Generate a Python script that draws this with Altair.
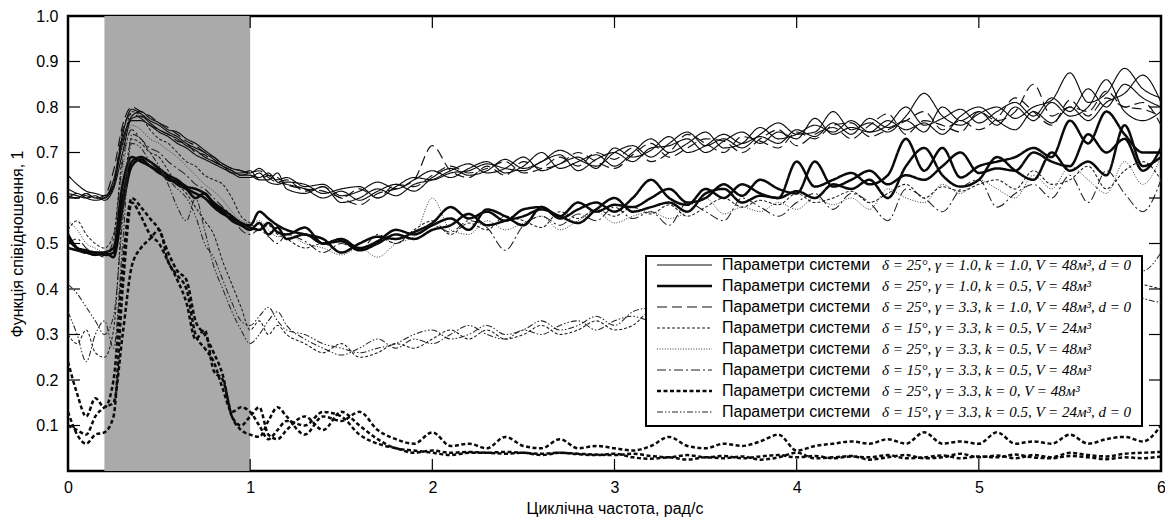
import altair as alt
import pandas as pd

# ---------------- data ----------------
X_GRID = [0.00, 0.05, 0.10, 0.15, 0.20, 0.25, 0.30, 0.35, 0.40, 0.45, 0.50, 0.55, 0.60,
          0.65, 0.70, 0.75, 0.80, 0.85, 0.90, 0.95, 1.00, 1.05, 1.10, 1.15, 1.20,
          1.3, 1.4, 1.5, 1.6, 1.7, 1.8, 1.9, 2.0, 2.1, 2.2,
          2.3, 2.4, 2.5, 2.6, 2.7, 2.8, 2.9, 3.0, 3.1, 3.2,
          3.3, 3.4, 3.5, 3.6, 3.7, 3.8, 3.9, 4.0, 4.1, 4.2,
          4.3, 4.4, 4.5, 4.6, 4.7, 4.8, 4.9, 5.0, 5.1, 5.2,
          5.3, 5.4, 5.5, 5.6, 5.7, 5.8, 5.9, 6.0]

# upper band: thin solid (A) and long dash (C)
A1 = [0.65, 0.63, 0.615, 0.61, 0.605, 0.63, 0.72, 0.78, 0.79, 0.775, 0.765, 0.75, 0.745, 0.73, 0.72, 0.705, 0.69, 0.675, 0.665, 0.66, 0.655, 0.665, 0.65, 0.64, 0.645,
      0.625, 0.63, 0.605, 0.615, 0.635, 0.62, 0.64, 0.66, 0.645, 0.665,
      0.68, 0.655, 0.67, 0.70, 0.665, 0.68, 0.695, 0.67, 0.70, 0.73,
      0.70, 0.72, 0.745, 0.71, 0.72, 0.755, 0.73, 0.74, 0.76, 0.745,
      0.77, 0.745, 0.76, 0.80, 0.76, 0.775, 0.795, 0.765, 0.79, 0.81,
      0.78, 0.82, 0.79, 0.84, 0.80, 0.85, 0.82, 0.80]
A2 = [0.605, 0.60, 0.61, 0.60, 0.60, 0.625, 0.74, 0.795, 0.785, 0.77, 0.76, 0.745, 0.735, 0.72, 0.71, 0.70, 0.685, 0.67, 0.66, 0.65, 0.65, 0.645, 0.655, 0.635, 0.63,
      0.62, 0.60, 0.615, 0.595, 0.615, 0.63, 0.615, 0.645, 0.665, 0.65,
      0.66, 0.685, 0.665, 0.68, 0.705, 0.685, 0.67, 0.70, 0.715, 0.69,
      0.72, 0.745, 0.715, 0.73, 0.71, 0.74, 0.765, 0.74, 0.745, 0.79,
      0.75, 0.765, 0.745, 0.78, 0.83, 0.78, 0.76, 0.785, 0.80, 0.775,
      0.80, 0.815, 0.875, 0.81, 0.83, 0.885, 0.84, 0.82]
A3 = [0.61, 0.605, 0.60, 0.605, 0.595, 0.62, 0.70, 0.775, 0.78, 0.765, 0.75, 0.74, 0.73, 0.715, 0.705, 0.69, 0.68, 0.67, 0.655, 0.655, 0.66, 0.64, 0.64, 0.655, 0.62,
      0.61, 0.625, 0.59, 0.60, 0.62, 0.605, 0.63, 0.64, 0.66, 0.675,
      0.655, 0.665, 0.69, 0.66, 0.675, 0.69, 0.665, 0.71, 0.69, 0.705,
      0.735, 0.70, 0.715, 0.74, 0.72, 0.735, 0.72, 0.75, 0.735, 0.765,
      0.74, 0.775, 0.755, 0.77, 0.745, 0.80, 0.77, 0.79, 0.76, 0.80,
      0.77, 0.81, 0.78, 0.80, 0.86, 0.79, 0.77, 0.79]
A4 = [0.60, 0.61, 0.60, 0.595, 0.60, 0.64, 0.73, 0.77, 0.77, 0.76, 0.745, 0.735, 0.72, 0.71, 0.695, 0.685, 0.675, 0.665, 0.655, 0.645, 0.645, 0.655, 0.635, 0.63, 0.635,
      0.63, 0.61, 0.62, 0.625, 0.60, 0.625, 0.645, 0.64, 0.655, 0.66,
      0.675, 0.665, 0.66, 0.68, 0.695, 0.66, 0.685, 0.70, 0.68, 0.71,
      0.715, 0.73, 0.70, 0.725, 0.745, 0.72, 0.745, 0.73, 0.775, 0.74,
      0.755, 0.745, 0.77, 0.75, 0.765, 0.74, 0.78, 0.80, 0.77, 0.75,
      0.79, 0.765, 0.80, 0.77, 0.81, 0.83, 0.87, 0.81]
C1 = [0.62, 0.61, 0.605, 0.60, 0.605, 0.66, 0.76, 0.80, 0.79, 0.78, 0.765, 0.755, 0.74, 0.725, 0.715, 0.70, 0.69, 0.675, 0.665, 0.66, 0.65, 0.64, 0.65, 0.645, 0.63,
      0.62, 0.615, 0.60, 0.585, 0.61, 0.62, 0.64, 0.715, 0.66, 0.645,
      0.67, 0.65, 0.68, 0.665, 0.675, 0.70, 0.68, 0.665, 0.695, 0.72,
      0.69, 0.71, 0.73, 0.725, 0.70, 0.73, 0.75, 0.715, 0.74, 0.755,
      0.73, 0.76, 0.785, 0.74, 0.77, 0.76, 0.745, 0.79, 0.77, 0.79,
      0.85, 0.78, 0.80, 0.79, 0.835, 0.80, 0.81, 0.76]
C2 = [0.605, 0.60, 0.61, 0.60, 0.60, 0.63, 0.75, 0.785, 0.775, 0.76, 0.75, 0.74, 0.725, 0.72, 0.70, 0.695, 0.68, 0.67, 0.66, 0.65, 0.655, 0.66, 0.645, 0.635, 0.64,
      0.615, 0.625, 0.60, 0.62, 0.60, 0.63, 0.625, 0.65, 0.67, 0.655,
      0.665, 0.68, 0.655, 0.665, 0.69, 0.67, 0.70, 0.685, 0.71, 0.68,
      0.70, 0.74, 0.72, 0.70, 0.735, 0.725, 0.71, 0.745, 0.73, 0.76,
      0.765, 0.735, 0.75, 0.77, 0.79, 0.75, 0.77, 0.75, 0.775, 0.82,
      0.79, 0.76, 0.815, 0.78, 0.82, 0.80, 0.795, 0.78]

# lower band: thick solid (B), dotted (E), short dash (D), dash-dot (F)
B1 = [0.52, 0.49, 0.48, 0.48, 0.475, 0.48, 0.60, 0.68, 0.69, 0.68, 0.665, 0.65, 0.64, 0.625, 0.62, 0.61, 0.59, 0.575, 0.56, 0.545, 0.54, 0.57, 0.555, 0.54, 0.53,
      0.52, 0.51, 0.48, 0.50, 0.515, 0.51, 0.525, 0.545, 0.58, 0.555,
      0.57, 0.55, 0.575, 0.58, 0.555, 0.575, 0.59, 0.57, 0.60, 0.64,
      0.60, 0.585, 0.62, 0.60, 0.63, 0.61, 0.60, 0.68, 0.625, 0.64,
      0.655, 0.63, 0.65, 0.73, 0.66, 0.71, 0.645, 0.67, 0.68, 0.69,
      0.71, 0.69, 0.77, 0.72, 0.79, 0.74, 0.70, 0.70]
B2 = [0.49, 0.485, 0.48, 0.475, 0.48, 0.49, 0.63, 0.69, 0.68, 0.67, 0.655, 0.645, 0.63, 0.62, 0.61, 0.60, 0.58, 0.565, 0.555, 0.545, 0.535, 0.53, 0.545, 0.525, 0.52,
      0.535, 0.50, 0.51, 0.49, 0.505, 0.53, 0.52, 0.54, 0.555, 0.53,
      0.575, 0.56, 0.54, 0.58, 0.56, 0.59, 0.57, 0.585, 0.58, 0.60,
      0.62, 0.59, 0.60, 0.63, 0.605, 0.64, 0.62, 0.61, 0.68, 0.625,
      0.64, 0.66, 0.63, 0.65, 0.64, 0.67, 0.70, 0.655, 0.665, 0.66,
      0.70, 0.68, 0.67, 0.74, 0.70, 0.73, 0.66, 0.71]
B3 = [0.51, 0.49, 0.485, 0.48, 0.48, 0.47, 0.58, 0.67, 0.685, 0.67, 0.66, 0.64, 0.635, 0.62, 0.60, 0.61, 0.585, 0.57, 0.55, 0.54, 0.53, 0.545, 0.52, 0.535, 0.51,
      0.52, 0.50, 0.505, 0.485, 0.50, 0.52, 0.51, 0.53, 0.54, 0.565,
      0.54, 0.55, 0.56, 0.575, 0.56, 0.545, 0.575, 0.60, 0.57, 0.58,
      0.59, 0.57, 0.61, 0.62, 0.59, 0.605, 0.60, 0.615, 0.60, 0.63,
      0.62, 0.64, 0.60, 0.67, 0.71, 0.65, 0.625, 0.64, 0.69, 0.66,
      0.64, 0.70, 0.66, 0.68, 0.65, 0.76, 0.67, 0.69]
E1 = [0.55, 0.53, 0.50, 0.49, 0.48, 0.50, 0.66, 0.76, 0.75, 0.73, 0.72, 0.705, 0.69, 0.67, 0.65, 0.63, 0.615, 0.595, 0.57, 0.55, 0.545, 0.55, 0.53, 0.515, 0.52,
      0.50, 0.49, 0.475, 0.49, 0.47, 0.50, 0.515, 0.60, 0.53, 0.52,
      0.55, 0.53, 0.545, 0.56, 0.53, 0.55, 0.57, 0.545, 0.56, 0.57,
      0.555, 0.57, 0.60, 0.565, 0.58, 0.57, 0.59, 0.575, 0.60, 0.585,
      0.60, 0.575, 0.62, 0.60, 0.59, 0.63, 0.61, 0.64, 0.62, 0.60,
      0.65, 0.62, 0.67, 0.64, 0.61, 0.68, 0.63, 0.69]
D1 = [0.53, 0.55, 0.52, 0.50, 0.49, 0.52, 0.70, 0.79, 0.78, 0.75, 0.73, 0.72, 0.70, 0.68, 0.67, 0.65, 0.64, 0.63, 0.60, 0.56, 0.545, 0.53, 0.54, 0.52, 0.51,
      0.49, 0.50, 0.48, 0.50, 0.515, 0.50, 0.53, 0.55, 0.52, 0.545,
      0.53, 0.56, 0.55, 0.535, 0.57, 0.555, 0.575, 0.56, 0.58, 0.565,
      0.585, 0.56, 0.58, 0.60, 0.58, 0.595, 0.585, 0.61, 0.59, 0.60,
      0.615, 0.59, 0.61, 0.63, 0.60, 0.625, 0.615, 0.63, 0.64, 0.62,
      0.66, 0.63, 0.64, 0.67, 0.62, 0.66, 0.68, 0.64]
F1 = [0.50, 0.51, 0.49, 0.48, 0.47, 0.51, 0.68, 0.75, 0.73, 0.71, 0.70, 0.68, 0.665, 0.65, 0.63, 0.62, 0.60, 0.58, 0.56, 0.53, 0.52, 0.53, 0.515, 0.50, 0.52,
      0.505, 0.48, 0.50, 0.485, 0.52, 0.50, 0.525, 0.54, 0.525, 0.55,
      0.535, 0.485, 0.54, 0.56, 0.54, 0.565, 0.55, 0.58, 0.555, 0.57,
      0.54, 0.59, 0.57, 0.55, 0.60, 0.58, 0.56, 0.59, 0.61, 0.575,
      0.61, 0.59, 0.55, 0.62, 0.60, 0.57, 0.62, 0.64, 0.58, 0.61,
      0.63, 0.60, 0.65, 0.59, 0.66, 0.61, 0.57, 0.64]

# middle band: dash-dot-dot (H) and short dash (D)
H1 = [0.41, 0.39, 0.36, 0.33, 0.30, 0.34, 0.55, 0.72, 0.71, 0.68, 0.66, 0.64, 0.62, 0.60, 0.56, 0.50, 0.47, 0.42, 0.37, 0.33, 0.32, 0.34, 0.36, 0.33, 0.31,
      0.30, 0.28, 0.27, 0.26, 0.27, 0.28, 0.30, 0.31, 0.29, 0.30,
      0.32, 0.30, 0.31, 0.33, 0.31, 0.32, 0.34, 0.32, 0.35, 0.36,
      0.37, 0.36, 0.38, 0.37, 0.39, 0.38, 0.40, 0.39, 0.41, 0.40,
      0.41, 0.42, 0.41, 0.43, 0.42, 0.43, 0.44, 0.43, 0.44, 0.45,
      0.44, 0.45, 0.46, 0.45, 0.46, 0.45, 0.44, 0.48]
H2 = [0.35, 0.30, 0.24, 0.30, 0.33, 0.27, 0.50, 0.74, 0.73, 0.70, 0.67, 0.63, 0.58, 0.55, 0.60, 0.53, 0.45, 0.40, 0.35, 0.31, 0.28, 0.30, 0.33, 0.35, 0.32,
      0.29, 0.27, 0.255, 0.27, 0.29, 0.27, 0.29, 0.28, 0.30, 0.32,
      0.30, 0.29, 0.31, 0.30, 0.32, 0.33, 0.31, 0.33, 0.34, 0.33,
      0.35, 0.37, 0.36, 0.38, 0.37, 0.38, 0.37, 0.39, 0.38, 0.40,
      0.39, 0.40, 0.41, 0.40, 0.42, 0.41, 0.42, 0.41, 0.42, 0.41,
      0.42, 0.43, 0.42, 0.41, 0.42, 0.40, 0.38, 0.37]
D2 = [0.30, 0.28, 0.31, 0.26, 0.25, 0.31, 0.58, 0.73, 0.72, 0.70, 0.69, 0.66, 0.63, 0.61, 0.58, 0.55, 0.52, 0.46, 0.41, 0.36, 0.31, 0.33, 0.30, 0.32, 0.30,
      0.28, 0.26, 0.28, 0.25, 0.26, 0.28, 0.27, 0.29, 0.31, 0.29,
      0.31, 0.29, 0.30, 0.32, 0.30, 0.31, 0.33, 0.31, 0.32, 0.35,
      0.34, 0.35, 0.36, 0.35, 0.37, 0.36, 0.38, 0.37, 0.38, 0.39,
      0.38, 0.40, 0.39, 0.41, 0.40, 0.41, 0.43, 0.42, 0.43, 0.42,
      0.44, 0.43, 0.45, 0.44, 0.43, 0.42, 0.41, 0.40]

# bottom band: thick dashed, k = 0 (G)
G1 = [0.24, 0.17, 0.12, 0.16, 0.14, 0.20, 0.45, 0.60, 0.58, 0.555, 0.53, 0.48, 0.44, 0.42, 0.33, 0.30, 0.26, 0.21, 0.12, 0.10, 0.12, 0.14, 0.08, 0.07, 0.09,
      0.12, 0.09, 0.13, 0.10, 0.07, 0.05, 0.045, 0.04, 0.035, 0.04,
      0.04, 0.038, 0.04, 0.035, 0.04, 0.038, 0.036, 0.035, 0.038, 0.033,
      0.03, 0.035, 0.03, 0.033, 0.028, 0.032, 0.035, 0.03, 0.033, 0.028,
      0.032, 0.03, 0.035, 0.028, 0.03, 0.034, 0.028, 0.032, 0.03, 0.036,
      0.03, 0.028, 0.033, 0.03, 0.026, 0.03, 0.028, 0.032]
G2 = [0.13, 0.08, 0.06, 0.08, 0.085, 0.12, 0.40, 0.59, 0.56, 0.52, 0.50, 0.46, 0.42, 0.37, 0.29, 0.31, 0.22, 0.20, 0.12, 0.09, 0.08, 0.075, 0.11, 0.14, 0.12,
      0.08, 0.12, 0.11, 0.13, 0.09, 0.07, 0.06, 0.085, 0.055, 0.06,
      0.05, 0.075, 0.055, 0.05, 0.07, 0.05, 0.055, 0.05, 0.045, 0.055,
      0.075, 0.055, 0.05, 0.06, 0.055, 0.065, 0.08, 0.045, 0.055, 0.06,
      0.065, 0.06, 0.07, 0.06, 0.085, 0.06, 0.065, 0.06, 0.085, 0.06,
      0.065, 0.06, 0.08, 0.06, 0.07, 0.075, 0.065, 0.10]
G3 = [0.10, 0.09, 0.08, 0.12, 0.14, 0.15, 0.30, 0.45, 0.49, 0.51, 0.53, 0.46, 0.43, 0.40, 0.30, 0.27, 0.24, 0.18, 0.13, 0.14, 0.13, 0.10, 0.07, 0.09, 0.11,
      0.10, 0.13, 0.12, 0.08, 0.06, 0.05, 0.04, 0.045, 0.04, 0.042,
      0.04, 0.042, 0.04, 0.038, 0.04, 0.037, 0.035, 0.038, 0.03, 0.027,
      0.03, 0.025, 0.03, 0.028, 0.032, 0.025, 0.03, 0.04, 0.028, 0.03,
      0.033, 0.025, 0.03, 0.035, 0.028, 0.03, 0.038, 0.03, 0.034, 0.028,
      0.035, 0.03, 0.04, 0.035, 0.032, 0.038, 0.04, 0.042]

SERIES = [("A1", "A", A1), ("A2", "A", A2), ("A3", "A", A3), ("A4", "A", A4),
          ("C1", "C", C1), ("C2", "C", C2),
          ("E1", "E", E1), ("D1", "D", D1), ("F1", "F", F1),
          ("B1", "B", B1), ("B2", "B", B2), ("B3", "B", B3),
          ("H1", "H", H1), ("H2", "H", H2), ("D2", "D", D2),
          ("G1", "G", G1), ("G2", "G", G2), ("G3", "G", G3)]

GROUPS = ["A", "B", "C", "D", "E", "F", "G", "H"]
LEGEND_NAME = "Параметри системи"
LEGEND_MATH = ["δ = 25°, γ = 1.0, k = 1.0, V = 48м³, d = 0",
               "δ = 25°, γ = 1.0, k = 0.5, V = 48м³",
               "δ = 25°, γ = 3.3, k = 1.0, V = 48м³, d = 0",
               "δ = 15°, γ = 3.3, k = 0.5, V = 24м³",
               "δ = 25°, γ = 3.3, k = 0.5, V = 48м³",
               "δ = 15°, γ = 3.3, k = 0.5, V = 48м³",
               "δ = 25°, γ = 3.3, k = 0, V = 48м³",
               "δ = 15°, γ = 3.3, k = 0.5, V = 24м³,  d = 0"]

SHADE_FROM = [0.2]
SHADE_TO = [1.0]
X_TICKS = [0, 1, 2, 3, 4, 5, 6]
Y_TICKS = [0.1, 0.2, 0.3, 0.4, 0.5, 0.6, 0.7, 0.8, 0.9, 1.0]

# ---------------- styles ----------------
DASHES = [[1, 0], [1, 0], [10, 5], [3, 2], [1, 1.6], [9, 3, 2, 3], [4, 2.5], [6, 2, 1.5, 2, 1.5, 2]]
WIDTHS = {"A": 1.15, "B": 2.5, "C": 1.15, "D": 1.05, "E": 1.0, "F": 1.05, "G": 2.5, "H": 1.05}
COLORS = {"A": "#0d0d0d", "B": "#0a0a0a", "C": "#111111", "D": "#1a1a1a",
          "E": "#3a3a3a", "F": "#1f1f1f", "G": "#0a0a0a", "H": "#262626"}

W, H = 1093, 455
TICK_X = 12 / W * 6
TICK_Y = 12 / H

rows = []
for name, grp, vals in SERIES:
    assert len(vals) == len(X_GRID), (name, len(vals))
    for xv, yv in zip(X_GRID, vals):
        rows.append({"x": xv, "y": yv, "series": name, "group": grp,
                     "sw": WIDTHS[grp], "col": COLORS[grp]})
df = pd.DataFrame(rows)

XSCALE = alt.Scale(domain=[0, 6], nice=False, zero=False)
YSCALE = alt.Scale(domain=[0, 1], nice=False, zero=False)
XAXIS = alt.Axis(values=X_TICKS, format="d", title="Циклічна частота, рад/с",
                 labelPadding=8, titlePadding=5, labelFlush=False)
YAXIS = alt.Axis(values=Y_TICKS, format=".1f", title="Функція співідношення, 1",
                 labelPadding=10, titlePadding=10)

dash_enc = alt.StrokeDash("group:N", scale=alt.Scale(domain=GROUPS, range=DASHES), legend=None)
width_enc = alt.StrokeWidth("sw:Q", scale=None, legend=None)
color_enc = alt.Color("col:N", scale=None, legend=None)

shade_df = pd.DataFrame({"x0": SHADE_FROM, "x1": SHADE_TO, "y0": [0.0], "y1": [1.0]})
shade = alt.Chart(shade_df).mark_rect(color="#aaaaaa").encode(
    x=alt.X("x0:Q", scale=XSCALE, axis=XAXIS), x2="x1:Q",
    y=alt.Y("y0:Q", scale=YSCALE, axis=None), y2="y1:Q")

lines = alt.Chart(df).mark_line(interpolate="monotone").encode(
    x=alt.X("x:Q", scale=XSCALE, axis=XAXIS),
    y=alt.Y("y:Q", scale=YSCALE, axis=YAXIS),
    detail="series:N", strokeDash=dash_enc, strokeWidth=width_enc, color=color_enc)

tick_rows = []
for xt in X_TICKS[1:-1]:
    tick_rows.append({"x": xt, "x2": xt, "y": 0.0, "y2": TICK_Y})
    tick_rows.append({"x": xt, "x2": xt, "y": 1.0 - TICK_Y, "y2": 1.0})
for yt in Y_TICKS[:-1]:
    tick_rows.append({"x": 0.0, "x2": TICK_X, "y": yt, "y2": yt})
    tick_rows.append({"x": 6.0 - TICK_X, "x2": 6.0, "y": yt, "y2": yt})
ticks = alt.Chart(pd.DataFrame(tick_rows)).mark_rule(color="black", strokeWidth=1.2).encode(
    x=alt.X("x:Q", scale=XSCALE, axis=XAXIS), x2="x2:Q",
    y=alt.Y("y:Q", scale=YSCALE, axis=None), y2="y2:Q")

# ---------------- legend ----------------
leg_df = pd.DataFrame({"row": list(range(len(GROUPS))), "group": GROUPS,
                       "sw": [WIDTHS[g] for g in GROUPS], "col": [COLORS[g] for g in GROUPS],
                       "name": [LEGEND_NAME] * len(GROUPS), "math": LEGEND_MATH})
LEG_Y = alt.Y("row:Q", scale=alt.Scale(domain=[0, 7], range=[249, 396]), axis=None)

box = alt.Chart(pd.DataFrame({"k": [0]})).mark_rect(
    fill="white", stroke="black", strokeWidth=2).encode(
    x=alt.value(578), x2=alt.value(1074), y=alt.value(240), y2=alt.value(410))
samples = alt.Chart(leg_df).mark_rule().encode(
    x=alt.value(589), x2=alt.value(644), y=LEG_Y,
    strokeDash=dash_enc, strokeWidth=width_enc, color=color_enc)
names = alt.Chart(leg_df).mark_text(
    align="left", baseline="middle", font="Liberation Sans", fontSize=16, color="black").encode(
    x=alt.value(654), y=LEG_Y, text="name:N")
maths = alt.Chart(leg_df).mark_text(
    align="left", baseline="middle", font="Liberation Serif", fontStyle="italic",
    fontSize=15, color="black").encode(
    x=alt.value(814), y=LEG_Y, text="math:N")

chart = alt.layer(shade, lines, ticks, box, samples, names, maths).resolve_scale(
    y="independent"
).properties(
    width=W, height=H,
    padding={"left": 60, "top": 8, "right": 4, "bottom": 50},
    autosize=alt.AutoSizeParams(type="none"),
).configure_view(
    stroke="black", strokeWidth=2.5
).configure_axis(
    domain=False, ticks=False, grid=False,
    labelFont="Liberation Sans", labelFontSize=16, labelColor="black",
    titleFont="Liberation Sans", titleFontSize=16, titleColor="black", titleFontWeight="normal"
)

chart.save("out.html", embed_options={"renderer": "svg", "actions": False})
